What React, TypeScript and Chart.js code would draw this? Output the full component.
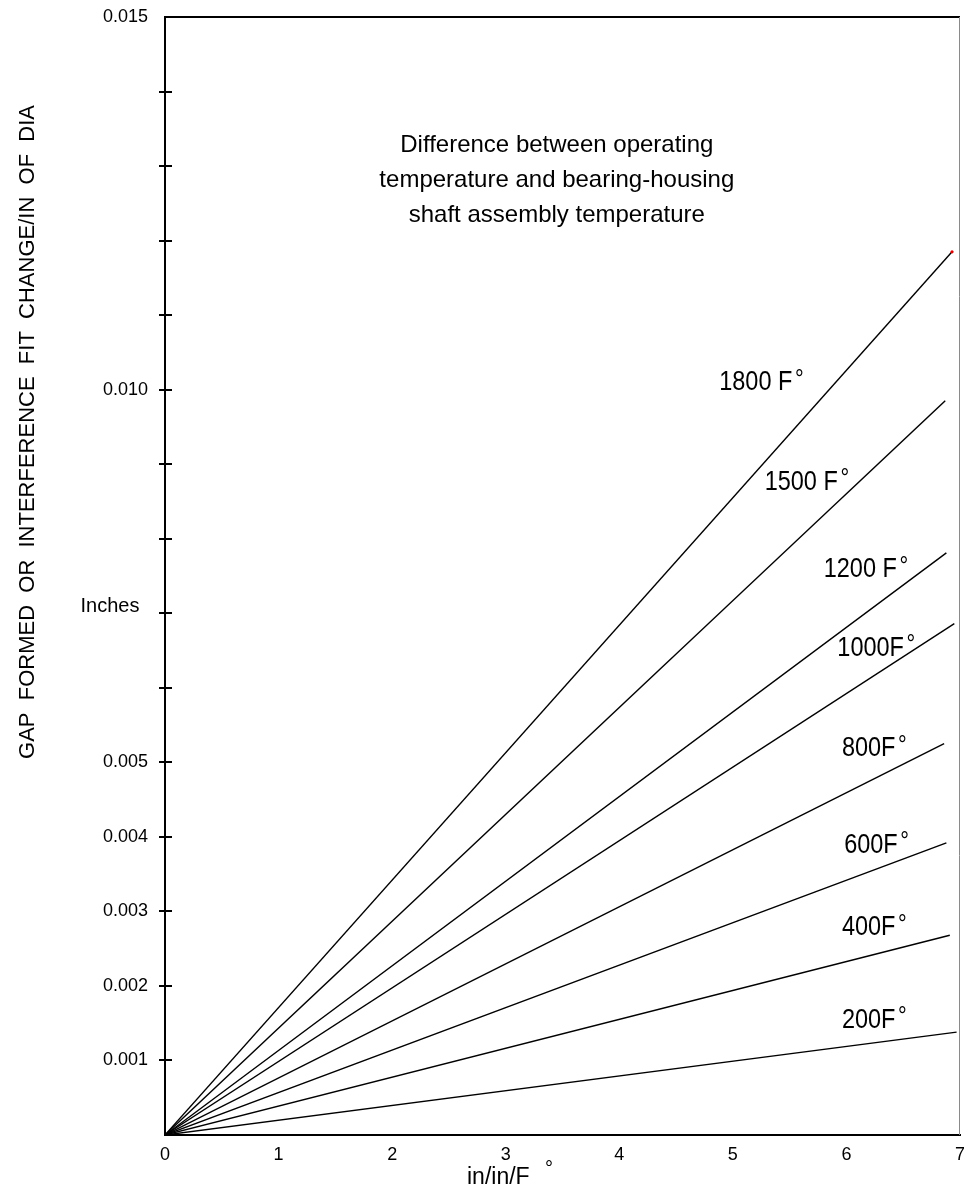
import React, { useEffect, useRef } from 'react';
import { Chart, registerables } from 'chart.js';

Chart.register(...registerables);

// ---- data ----
const seriesNames = ['1800 F', '1500 F', '1200 F', '1000F', '800F', '600F', '400F', '200F'];
const startX = [0, 0, 0, 0, 0, 0, 0, 0];
const startY = [0, 0, 0, 0, 0, 0, 0, 0];
const endX = [6.93, 6.87, 6.88, 6.95, 6.86, 6.88, 6.91, 6.97];
const endY = [0.01185, 0.00985, 0.00781, 0.00686, 0.00525, 0.00392, 0.00268, 0.00138];
// label anchors (data units): left edge x, vertical centre y
const labelX = [4.88, 5.28, 5.8, 5.92, 5.96, 5.98, 5.96, 5.96];
const labelY = [0.01009, 0.00876, 0.00758, 0.00653, 0.00518, 0.00389, 0.00278, 0.00154];

const xTickValues = [0, 1, 2, 3, 4, 5, 6, 7];
const xTickLabels = ['0', '1', '2', '3', '4', '5', '6', '7'];
const yTickValues = [0, 0.001, 0.002, 0.003, 0.004, 0.005, 0.006, 0.007, 0.008, 0.009, 0.01, 0.011, 0.012, 0.013, 0.014, 0.015];
const yTickLabels = ['', '0.001', '0.002', '0.003', '0.004', '0.005', '', '', '', '', '0.010', '', '', '', '', '0.015'];

const xTitle = 'in/in/F';
const yTitle = 'GAP  FORMED  OR  INTERFERENCE  FIT  CHANGE/IN  OF  DIA';
const unitLabel = 'Inches';
const noteLines = ['Difference between operating', 'temperature and bearing-housing', 'shaft assembly temperature'];

const FONT = '"Liberation Sans", Arial, Helvetica, sans-serif';

const decorPlugin = {
  id: 'decor',
  afterDatasetsDraw(chart: any) {
    const { ctx, chartArea, scales } = chart;
    const xs = scales.x;
    const ys = scales.y;
    ctx.save();
    // frame top & right
    ctx.strokeStyle = '#000';
    ctx.lineWidth = 2;
    ctx.beginPath();
    ctx.moveTo(chartArea.left, chartArea.top);
    ctx.lineTo(chartArea.right, chartArea.top);
    ctx.stroke();
    ctx.strokeStyle = '#8a8a8a';
    ctx.lineWidth = 1;
    ctx.beginPath();
    ctx.moveTo(chartArea.right - 0.5, chartArea.top);
    ctx.lineTo(chartArea.right - 0.5, chartArea.bottom);
    ctx.stroke();
    // inner halves of y tick marks
    ctx.strokeStyle = '#000';
    ctx.lineWidth = 2;
    yTickValues.forEach((v, i) => {
      if (i === 0 || i === yTickValues.length - 1) return;
      const py = Math.round(ys.getPixelForValue(v));
      ctx.beginPath();
      ctx.moveTo(chartArea.left, py);
      ctx.lineTo(chartArea.left + 7, py);
      ctx.stroke();
    });
    // curve labels (condensed), degree sign set slightly apart
    ctx.fillStyle = '#000';
    ctx.textBaseline = 'middle';
    ctx.textAlign = 'left';
    seriesNames.forEach((name, i) => {
      const px = xs.getPixelForValue(labelX[i]);
      const py = ys.getPixelForValue(labelY[i]);
      ctx.save();
      ctx.translate(px, py);
      ctx.scale(0.87, 1);
      ctx.font = `27px ${FONT}`;
      ctx.fillText(name, 0, 0);
      const w = ctx.measureText(name).width;
      ctx.font = `25px ${FONT}`;
      ctx.fillText('°', w + 3, -3);
      ctx.restore();
    });
    // note text
    ctx.font = `24px ${FONT}`;
    ctx.textAlign = 'center';
    const noteX = xs.getPixelForValue(3.45);
    noteLines.forEach((line, i) => {
      ctx.fillText(line, noteX, 145 + i * 35);
    });
    // unit label
    ctx.font = `20px ${FONT}`;
    ctx.textAlign = 'center';
    ctx.fillText(unitLabel, 110, 606);
    // x title
    ctx.font = `23px ${FONT}`;
    ctx.textAlign = 'left';
    ctx.textBaseline = 'alphabetic';
    ctx.fillText(xTitle, 467, 1184);
    ctx.font = `20px ${FONT}`;
    ctx.fillText('°', 545, 1175);
    // y title
    ctx.font = `22px ${FONT}`;
    ctx.textAlign = 'center';
    ctx.textBaseline = 'middle';
    ctx.translate(28, 432);
    ctx.rotate(-Math.PI / 2);
    ctx.fillText(yTitle, 0, 0);
    ctx.restore();
  },
};

export default function App() {
  const ref = useRef<HTMLCanvasElement | null>(null);
  useEffect(() => {
    if (!ref.current) return;
    const datasets = seriesNames.map((name, i) => ({
      label: name,
      data: [
        { x: startX[i], y: startY[i] },
        { x: endX[i], y: endY[i] },
      ],
      borderColor: '#000',
      borderWidth: 1.4,
      pointRadius: i === 0 ? [0, 1.6] : 0,
      pointBackgroundColor: '#e00000',
      pointBorderWidth: 0,
      tension: 0,
      fill: false,
    }));
    const chart = new Chart(ref.current, {
      type: 'line',
      data: { datasets },
      plugins: [decorPlugin],
      options: {
        animation: false,
        responsive: false,
        maintainAspectRatio: false,
        devicePixelRatio: 1,
        layout: { padding: { top: 17, right: 3, left: 0, bottom: 0 } },
        plugins: { legend: { display: false }, tooltip: { enabled: false } },
        scales: {
          x: {
            type: 'linear',
            min: 0,
            max: 7,
            afterBuildTicks: (s: any) => {
              s.ticks = xTickValues.map((v) => ({ value: v }));
            },
            afterFit: (s: any) => {
              s.height = 59;
              s.paddingLeft = 0;
              s.paddingRight = 0;
            },
            grid: { display: false, drawTicks: false },
            border: { display: true, color: '#000', width: 2 },
            ticks: {
              autoSkip: false,
              maxRotation: 0,
              padding: 9,
              color: '#000',
              font: { family: FONT, size: 18 },
              callback: (_v: any, idx: number) => xTickLabels[idx],
            },
          },
          y: {
            type: 'linear',
            min: 0,
            max: 0.015,
            afterBuildTicks: (s: any) => {
              s.ticks = yTickValues.map((v) => ({ value: v }));
            },
            afterFit: (s: any) => {
              s.width = 165;
              s.paddingTop = 0;
              s.paddingBottom = 0;
            },
            grid: {
              display: true,
              drawOnChartArea: false,
              drawTicks: true,
              tickLength: 6,
              color: (c: any) => (c.index === 0 || c.index === yTickValues.length - 1 ? 'rgba(0,0,0,0)' : '#000'),
              lineWidth: 2,
            },
            border: { display: true, color: '#000', width: 2 },
            ticks: {
              autoSkip: false,
              padding: 11,
              color: '#000',
              font: { family: FONT, size: 18 },
              callback: (_v: any, idx: number) => yTickLabels[idx],
            },
          },
        },
      },
    } as any);
    return () => chart.destroy();
  }, []);
  return (
    <div style={{ position: 'absolute', left: 0, top: 0, width: 964, height: 1194, background: '#fff' }}>
      <canvas ref={ref} width={964} height={1194} style={{ display: 'block', width: 964, height: 1194 }} />
    </div>
  );
}
